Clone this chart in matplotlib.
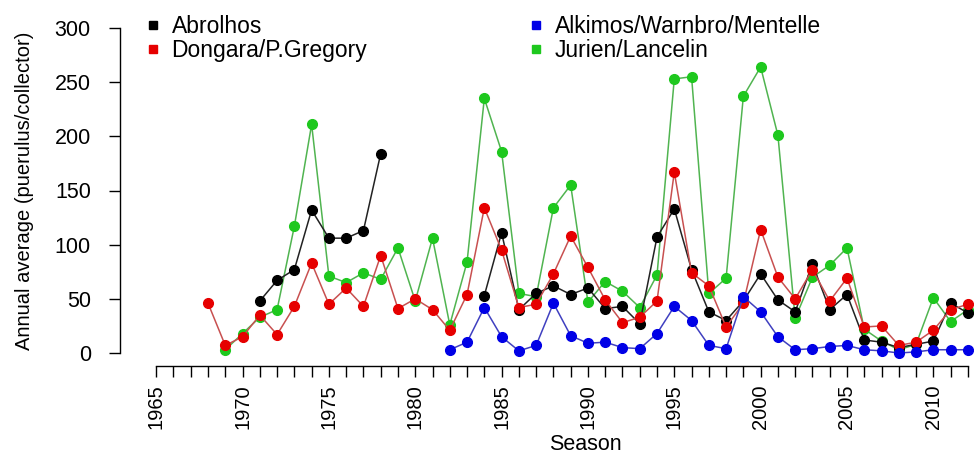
import numpy as np
import matplotlib
matplotlib.use("Agg")
import matplotlib.pyplot as plt
from matplotlib.lines import Line2D

plt.rcParams['font.family'] = ['Liberation Sans', 'DejaVu Sans']

nan = np.nan
years = list(range(1968, 2013))

abrolhos = [nan, nan, nan, 48, 67, 77, 132, 106, 106, 113, 184,
            nan, nan, nan, nan, nan,
            53, 111, 40, 55, 62, 54, 60, 41, 43, 27, 107, 133, 77, 38, 30,
            48, 73, 49, 38, 82, 40, 54, 12, 10, 5, 8, 11, 46, 37]
dongara = [46, 7, 15, 35, 17, 43, 83, 45, 60, 43,
           90, 41, 50, 40, 21, 54, 134, 95, 42, 45,
           73, 108, 79, 49, 28, 33, 48, 167, 74, 62,
           24, 46, 114, 70, 50, 77, 48, 69, 24, 25,
           7, 10, 21, 40, 45]
alkimos = [nan] * 14 + [3, 10, 42, 15, 2, 7, 46, 16, 9, 10,
                        5, 4, 18, 43, 30, 7, 4, 52, 38, 15,
                        3, 4, 6, 7, 3, 2, 0, 1, 3, 3, 3]
jurien = [nan, 3, 18, 33, 40, 117, 211, 71, 65, 74, 68,
          97, 48, 106, 26, 84, 235, 186, 55, 52, 134,
          155, 47, 66, 57, 42, 72, 253, 255, 55, 69,
          237, 264, 201, 32, 70, 81, 97, 22, 11, 3,
          8, 51, 29, 40]

series_names = ["Abrolhos", "Dongara/P.Gregory", "Alkimos/Warnbro/Mentelle", "Jurien/Lancelin"]
yticks = [0, 50, 100, 150, 200, 250, 300]
xtick_years = list(range(1965, 2013))

W, H = 974, 457
fig = plt.figure(figsize=(W / 100, H / 100), dpi=100)
left_px, right_px, top_px, bot_px = 120, 974, 15, 366
ax = fig.add_axes([left_px / W, 1 - bot_px / H, (right_px - left_px) / W, (bot_px - top_px) / H])

colors = {"Abrolhos": "#000000", "Dongara/P.Gregory": "#e60000",
          "Alkimos/Warnbro/Mentelle": "#0000e6", "Jurien/Lancelin": "#1ec81e"}
linecolors = {"Abrolhos": "#222222", "Dongara/P.Gregory": "#c85050",
              "Alkimos/Warnbro/Mentelle": "#4040c0", "Jurien/Lancelin": "#50b450"}
data = {"Abrolhos": abrolhos, "Dongara/P.Gregory": dongara,
        "Alkimos/Warnbro/Mentelle": alkimos, "Jurien/Lancelin": jurien}

order = ["Jurien/Lancelin", "Abrolhos", "Dongara/P.Gregory", "Alkimos/Warnbro/Mentelle"]
for z, name in enumerate(order):
    y = np.array(data[name], dtype=float)
    ax.plot(years, y, '-', color=linecolors[name], lw=1.1, zorder=2 + 2 * z, clip_on=False)
    ax.plot(years, y, 'o', color=colors[name], ms=7, mec=colors[name], zorder=3 + 2 * z, clip_on=False)

ax.set_xlim(1968 - (208 - left_px) / 17.27, 1968 + (right_px - 208) / 17.27)
ax.set_ylim(-12, 312)

for s in ['top', 'right']:
    ax.spines[s].set_visible(False)
ax.spines['left'].set_bounds(0, 300)
ax.spines['bottom'].set_bounds(1965, 2012)
ax.spines['left'].set_linewidth(1.0)
ax.spines['bottom'].set_linewidth(1.0)

ax.set_yticks(yticks)
ax.set_yticklabels([str(v) for v in yticks])
ax.set_xticks(xtick_years)
ax.set_xticklabels([str(v) if v % 5 == 0 else '' for v in xtick_years], rotation=90)
ax.tick_params(axis='y', length=8, width=1.0, pad=13, labelsize=15.5)
ax.tick_params(axis='x', length=8, width=1.0, pad=5, labelsize=14.5)

ax.set_ylabel("Annual average (puerulus/collector)", fontsize=14.5)
ax.yaxis.set_label_coords((34 - left_px) / (right_px - left_px), 0.5)
ax.set_xlabel("Season", fontsize=15.5)
ax.xaxis.set_label_coords((585 - left_px) / (right_px - left_px), (bot_px - 434) / (bot_px - top_px))

legend_order = ["Abrolhos", "Dongara/P.Gregory", "Alkimos/Warnbro/Mentelle", "Jurien/Lancelin"]
handles = [Line2D([], [], ls='none', marker='s', ms=5.5, color=colors[n]) for n in legend_order]
common = dict(loc='upper left', frameon=False, borderpad=0, borderaxespad=0,
              handlelength=0.8, handletextpad=0.4, labelspacing=0.05, fontsize=16.5)
leg1 = fig.legend(handles[:2], legend_order[:2], bbox_to_anchor=(144 / W, 1 - 15 / H), **common)
leg2 = fig.legend(handles[2:], legend_order[2:], bbox_to_anchor=(527 / W, 1 - 15 / H), **common)

fig.savefig("out.png", dpi=100)
